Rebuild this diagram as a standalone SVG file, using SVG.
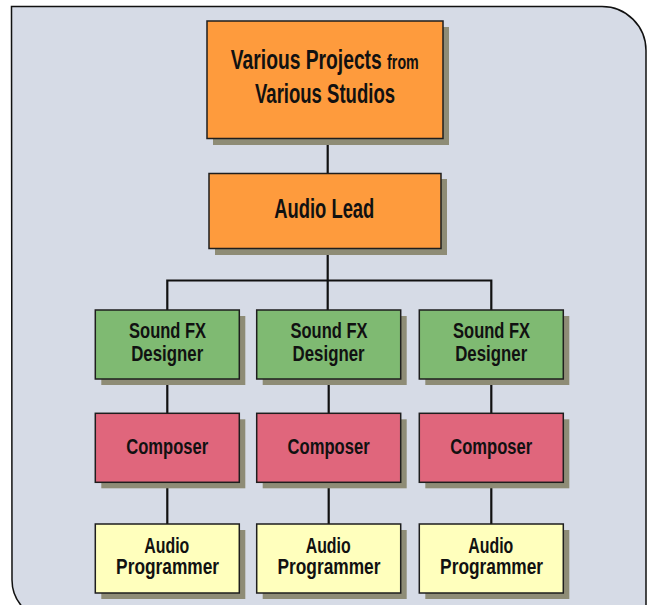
<svg xmlns="http://www.w3.org/2000/svg" width="650" height="605" viewBox="0 0 650 605">
  <style>
    .box { stroke: #1e1e1e; stroke-width: 1.5; }
    .shadow { fill: #8e8c76; }
    .lead { fill: #fe9b3d; }
    .sfx { fill: #7fba72; }
    .comp { fill: #e0667c; }
    .prog { fill: #ffffbd; }
    .lbl { font-family: "Liberation Sans Narrow", "Liberation Sans", Arial, sans-serif; font-weight: bold; fill: #111; text-anchor: middle; }
    .big { font-size: 27px; }
    .mid { font-size: 22px; }
    .wire { stroke: #111; stroke-width: 2.2; fill: none; }
  </style>

  <!-- panel -->
  <path d="M11.5 6.5 H602 A44 44 0 0 1 646 50.5 V620 H52 A40 40 0 0 1 12 580 Z" fill="#d6dbe6" stroke="#111" stroke-width="1.5"/>

  <!-- connectors -->
  <g id="connectors">
    <path class="wire" d="M327.7 138 V173"/>
    <path class="wire" d="M327.7 248 V280.5"/>
    <path class="wire" d="M167.3 310 V280.5 H491.3 V310"/>
    <path class="wire" d="M327.7 280.5 V310"/>
    <path class="wire" d="M167.3 379 V413 M167.3 482 V524"/>
    <path class="wire" d="M328.7 379 V413 M328.7 482 V524"/>
    <path class="wire" d="M491.3 379 V413 M491.3 482 V524"/>
  </g>

  <g id="projects">
    <rect class="shadow" x="213" y="27" width="236" height="118"/>
    <rect class="box lead" x="207" y="21" width="236" height="117.5"/>
    <text class="lbl big" x="324.8" y="69" textLength="188" lengthAdjust="spacingAndGlyphs">Various Projects <tspan font-size="20px">from</tspan></text>
    <text class="lbl big" x="325" y="103" textLength="140" lengthAdjust="spacingAndGlyphs">Various Studios</text>
  </g>

  <g id="audio-lead">
    <rect class="shadow" x="215" y="179" width="232" height="76"/>
    <rect class="box lead" x="209" y="173.5" width="232" height="75"/>
    <text class="lbl big" x="324.3" y="217.5" textLength="100" lengthAdjust="spacingAndGlyphs">Audio Lead</text>
  </g>

  <!-- sound FX designers -->
  <g id="sfx-1">
    <rect class="shadow" x="101.3" y="316" width="144" height="69"/>
    <rect class="box sfx" x="95.3" y="310" width="144" height="69"/>
    <text class="lbl mid" x="167.6" y="338.3" textLength="77" lengthAdjust="spacingAndGlyphs">Sound FX</text>
    <text class="lbl mid" x="167.2" y="360.7" textLength="72" lengthAdjust="spacingAndGlyphs">Designer</text>
  </g>
  <g id="sfx-2">
    <rect class="shadow" x="262.7" y="316" width="144" height="69"/>
    <rect class="box sfx" x="256.7" y="310" width="144" height="69"/>
    <text class="lbl mid" x="329" y="338.3" textLength="77" lengthAdjust="spacingAndGlyphs">Sound FX</text>
    <text class="lbl mid" x="328.6" y="360.7" textLength="72" lengthAdjust="spacingAndGlyphs">Designer</text>
  </g>
  <g id="sfx-3">
    <rect class="shadow" x="425.3" y="316" width="144" height="69"/>
    <rect class="box sfx" x="419.3" y="310" width="144" height="69"/>
    <text class="lbl mid" x="491.6" y="338.3" textLength="77" lengthAdjust="spacingAndGlyphs">Sound FX</text>
    <text class="lbl mid" x="491.2" y="360.7" textLength="72" lengthAdjust="spacingAndGlyphs">Designer</text>
  </g>

  <!-- composers -->
  <g id="composer-1">
    <rect class="shadow" x="101.3" y="419.3" width="144" height="69"/>
    <rect class="box comp" x="95.3" y="413.3" width="144" height="69"/>
    <text class="lbl mid" x="167.2" y="454" textLength="82" lengthAdjust="spacingAndGlyphs">Composer</text>
  </g>
  <g id="composer-2">
    <rect class="shadow" x="262.7" y="419.3" width="144" height="69"/>
    <rect class="box comp" x="256.7" y="413.3" width="144" height="69"/>
    <text class="lbl mid" x="328.6" y="454" textLength="82" lengthAdjust="spacingAndGlyphs">Composer</text>
  </g>
  <g id="composer-3">
    <rect class="shadow" x="425.3" y="419.3" width="144" height="69"/>
    <rect class="box comp" x="419.3" y="413.3" width="144" height="69"/>
    <text class="lbl mid" x="491.2" y="454" textLength="82" lengthAdjust="spacingAndGlyphs">Composer</text>
  </g>

  <!-- audio programmers -->
  <g id="programmer-1">
    <rect class="shadow" x="101.3" y="530" width="144" height="69"/>
    <rect class="box prog" x="95.3" y="524" width="144" height="69"/>
    <text class="lbl mid" x="166.8" y="553.3" textLength="45" lengthAdjust="spacingAndGlyphs">Audio</text>
    <text class="lbl mid" x="167.6" y="574.3" textLength="103" lengthAdjust="spacingAndGlyphs">Programmer</text>
  </g>
  <g id="programmer-2">
    <rect class="shadow" x="262.7" y="530" width="144" height="69"/>
    <rect class="box prog" x="256.7" y="524" width="144" height="69"/>
    <text class="lbl mid" x="328.2" y="553.3" textLength="45" lengthAdjust="spacingAndGlyphs">Audio</text>
    <text class="lbl mid" x="329" y="574.3" textLength="103" lengthAdjust="spacingAndGlyphs">Programmer</text>
  </g>
  <g id="programmer-3">
    <rect class="shadow" x="425.3" y="530" width="144" height="69"/>
    <rect class="box prog" x="419.3" y="524" width="144" height="69"/>
    <text class="lbl mid" x="490.8" y="553.3" textLength="45" lengthAdjust="spacingAndGlyphs">Audio</text>
    <text class="lbl mid" x="491.6" y="574.3" textLength="103" lengthAdjust="spacingAndGlyphs">Programmer</text>
  </g>
</svg>
